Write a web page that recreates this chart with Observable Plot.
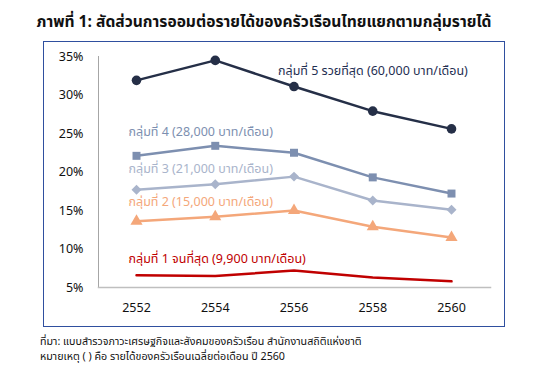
<!DOCTYPE html>
<html><head><meta charset="utf-8">
<script src="https://cdn.jsdelivr.net/npm/d3@7"></script>
<script src="https://cdn.jsdelivr.net/npm/@observablehq/plot@0.6"></script>
<style>
body{margin:0;width:540px;height:377px;position:relative;background:#fff;font-family:Tahoma,"Noto Sans Thai","Noto Sans",sans-serif;overflow:hidden}
#title{position:absolute;left:-6px;top:10px;width:540px;text-align:center;font-weight:bold;font-size:15.6px;color:#111}
#box{position:absolute;left:43px;top:41px;width:460px;height:284px;border:1.5px solid #2f4f9f}
#chart{position:absolute;left:0;top:0}
#cap{position:absolute;left:40px;top:335px;font-size:10.7px;line-height:15px;color:#111}
</style></head><body>
<div id="title">ภาพที่ 1: สัดส่วนการออมต่อรายได้ของครัวเรือนไทยแยกตามกลุ่มรายได้</div>
<div id="box"></div>
<div id="chart"></div>
<div id="cap">ที่มา: แบบสำรวจภาวะเศรษฐกิจและสังคมของครัวเรือน สำนักงานสถิติแห่งชาติ<br>หมายเหตุ ( ) คือ รายได้ของครัวเรือนเฉลี่ยต่อเดือน ปี 2560</div>
<script>
const years = [2552, 2554, 2556, 2558, 2560];
const group1 = [6.6, 6.5, 7.2, 6.3, 5.8];
const group2 = [13.6, 14.2, 15.0, 12.9, 11.5];
const group3 = [17.7, 18.4, 19.4, 16.3, 15.1];
const group4 = [22.1, 23.4, 22.5, 19.3, 17.2];
const group5 = [31.9, 34.5, 31.1, 27.9, 25.6];
const seriesNames = ["กลุ่มที่ 1 จนที่สุด (9,900 บาท/เดือน)", "กลุ่มที่ 2 (15,000 บาท/เดือน)", "กลุ่มที่ 3 (21,000 บาท/เดือน)", "กลุ่มที่ 4 (28,000 บาท/เดือน)", "กลุ่มที่ 5 รวยที่สุด (60,000 บาท/เดือน)"];
const yTicks = [5, 10, 15, 20, 25, 30, 35];

const allValues = [group1, group2, group3, group4, group5];
const colors = ["#c00000", "#f4a77a", "#a9b4cb", "#7d8fb0", "#252f47"];
const labelColors = ["#c00000", "#f4a77a", "#a9b4cb", "#7d8fb0", "#1f2f52"];
const symbols = [null, "triangle", "diamond2", "square", "circle"];
const labelAt = [0, 0, 0, 0, 2];
const labelDx = [-8, -8, -8, -8, -16];
const labelDy = [-16, -19, -21, -24, -16];

const rows = [];
allValues.forEach((vals, s) => vals.forEach((v, i) => rows.push({s, year: years[i], v})));

const marks = [
  Plot.frame({anchor: "left", stroke: "#a6a6a6", strokeWidth: 1}),
  Plot.frame({anchor: "bottom", stroke: "#bfbfbf", strokeWidth: 1.5}),
  Plot.axisY({ticks: yTicks, tickSize: 0, tickPadding: 15, tickFormat: d => d + "%", fontSize: 12.5, fill: "#111", label: null}),
  Plot.axisX({ticks: years, tickSize: 0, tickPadding: 16, tickFormat: d => String(d), fontSize: 12.5, fill: "#111", label: null})
];
allValues.forEach((vals, s) => {
  const data = rows.filter(d => d.s === s);
  marks.push(Plot.line(data, {x: "year", y: "v", stroke: colors[s], strokeWidth: 2.5}));
  if (symbols[s]) marks.push(Plot.dot(data, {x: "year", y: "v", fill: colors[s], symbol: symbols[s], r: s === 4 ? 4.8 : 4.5}));
  marks.push(Plot.text([data[labelAt[s]]], {x: "year", y: "v", text: () => seriesNames[s], textAnchor: "start", dx: labelDx[s], dy: labelDy[s], fill: labelColors[s], fontSize: 12.5}));
});

const chart = Plot.plot({
  width: 540, height: 377,
  marginLeft: 98, marginRight: 50, marginTop: 56, marginBottom: 90,
  style: {fontFamily: 'Tahoma,"Noto Sans Thai","Noto Sans",sans-serif', background: "transparent", overflow: "visible"},
  x: {domain: [2552, 2560], insetLeft: 38, insetRight: 39, axis: null},
  y: {domain: [5, 35], axis: null},
  marks
});
document.getElementById("chart").appendChild(chart);
</script>
</body></html>
